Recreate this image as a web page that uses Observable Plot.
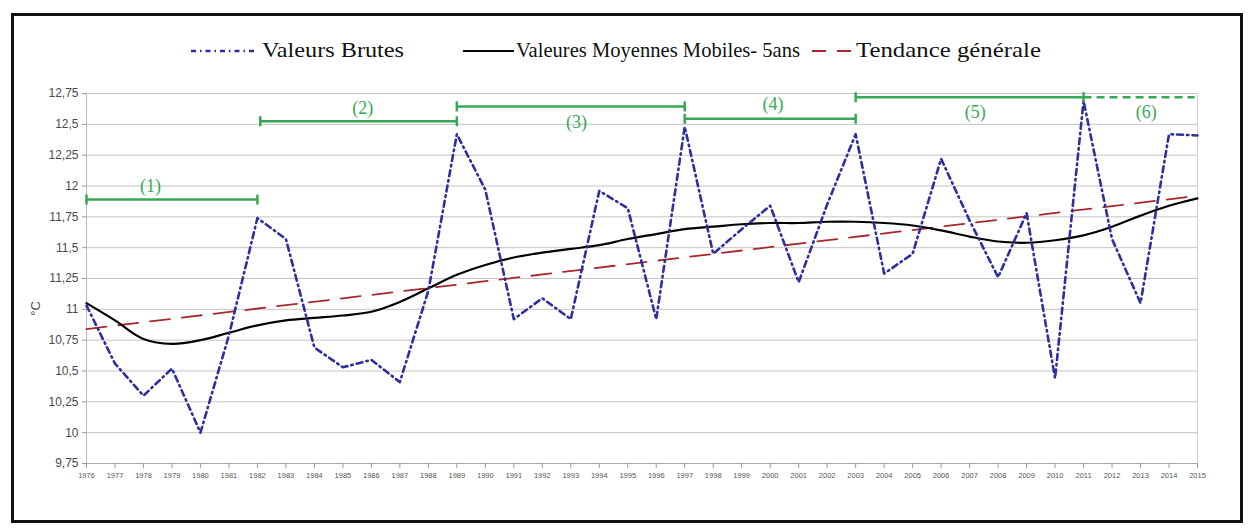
<!DOCTYPE html>
<html>
<head>
<meta charset="utf-8">
<script src="https://cdn.jsdelivr.net/npm/d3@7"></script>
<script src="https://cdn.jsdelivr.net/npm/@observablehq/plot@0.6"></script>
<style>
  html, body { margin: 0; padding: 0; background: #fff; }
  #root { position: relative; width: 1253px; height: 532px; overflow: hidden; background: #fff; }
  #frame { position: absolute; left: 11px; top: 13px; width: 1226px; height: 504px; border: 3px solid #111; pointer-events: none; }
  #legend { position: absolute; left: 0; top: 0; }
  #chart { position: absolute; left: 0; top: 75px; }
  #ylab { position: absolute; left: 28px; top: 301px; font: 13px "Liberation Sans", Arial, sans-serif; color: #444; transform: rotate(-90deg); transform-origin: center; }
</style>
</head>
<body>
<div id="root">
  <div id="frame"></div>
  <svg id="legend" width="1253" height="75"></svg>
  <div id="chart"></div>
  <div id="ylab">°C</div>
</div>
<script>
// ---- data ----
const years = [1976,1977,1978,1979,1980,1981,1982,1983,1984,1985,
               1986,1987,1988,1989,1990,1991,1992,1993,1994,1995,
               1996,1997,1998,1999,2000,2001,2002,2003,2004,2005,
               2006,2007,2008,2009,2010,2011,2012,2013,2014,2015];
const rawValues = [11.03,10.56,10.30,10.52,10.00,10.79,11.74,11.57,10.69,10.53,
                   10.59,10.41,11.15,12.42,11.97,10.92,11.09,10.92,11.96,11.82,
                   10.92,12.48,11.45,11.65,11.84,11.22,11.85,12.42,11.29,11.45,
                   12.22,11.72,11.26,11.78,10.44,12.69,11.57,11.05,12.42,12.41];
const movingAvg = [11.05,10.91,10.76,10.72,10.75,10.81,10.87,10.91,10.93,10.95,
                   10.98,11.06,11.17,11.28,11.36,11.42,11.46,11.49,11.52,11.57,
                   11.61,11.65,11.67,11.69,11.70,11.70,11.71,11.71,11.70,11.68,
                   11.64,11.59,11.55,11.54,11.56,11.60,11.67,11.76,11.84,11.90];
const trendYears = [1976, 2015];
const trendValues = [10.84, 11.92];
const yTicks = [9.75,10,10.25,10.5,10.75,11,11.25,11.5,11.75,12,12.25,12.5,12.75];

const periodLabels = ["(1)","(2)","(3)","(4)","(5)","(6)"];
const periodStart = [1976, 1982.1, 1989, 1997, 2003, 2011];
const periodEnd   = [1982, 1989, 1997, 2003, 2011, 2014.9];
const periodLevel = [11.89, 12.525, 12.645, 12.545, 12.72, 12.72];
const periodDashed = [false,false,false,false,false,true];
const periodCaps  = [true,true,true,true,true,false];
const labelYear   = [1978.25, 1985.7, 1993.2, 2000.1, 2007.2, 2013.2];
const labelLevel  = [12.0, 12.63, 12.52, 12.66, 12.6, 12.6];

const legendItems = ["Valeurs Brutes", "Valeures Moyennes Mobiles- 5ans", "Tendance générale"];

// ---- styles ----
const BLUE = "#2f2f9c", RED = "#a8282c", GREEN = "#37a856";
const SERIF = '"Liberation Serif", "Times New Roman", serif';
const SANS = '"Liberation Sans", Arial, sans-serif';

// ---- tables ----
const raw = years.map((y,i) => ({year:y, v:rawValues[i]}));
const ma = years.map((y,i) => ({year:y, v:movingAvg[i]}));
const trend = trendYears.map((y,i) => ({year:y, v:trendValues[i]}));
const periods = periodLabels.map((l,i) => ({label:l, x1:periodStart[i], x2:periodEnd[i], y:periodLevel[i], dashed:periodDashed[i], caps:periodCaps[i], lx:labelYear[i], ly:labelLevel[i]}));
const caps = periods.filter(p => p.caps).flatMap(p => [{x:p.x1, y:p.y},{x:p.x2, y:p.y}]);

const vTick = { draw(ctx, size) { const h = Math.sqrt(size / Math.PI); ctx.moveTo(0, -h); ctx.lineTo(0, h); } };
const fmt = d => String(d).replace(".", ",");

const chart = Plot.plot({
  width: 1253, height: 457,
  marginLeft: 86, marginRight: 56, marginTop: 18, marginBottom: 69,
  x: {domain: [1976, 2015]},
  y: {domain: [9.75, 12.75]},
  style: {background: "transparent"},
  marks: [
    Plot.ruleY(yTicks, {stroke: "#c4c4c4", strokeWidth: 1}),
    Plot.ruleX([2015], {stroke: "#d0d0d0"}),
    Plot.ruleX([1976], {stroke: "#b8b8b8"}),
    Plot.ruleY([9.75], {stroke: "#aaa"}),
    Plot.axisY({ticks: yTicks, tickFormat: fmt, fontSize: 12, tickSize: 4, tickPadding: 4, stroke: "#999", color: "#4a4a4a", fontFamily: SANS, label: null}),
    Plot.axisX({ticks: years, tickFormat: d => String(d), fontSize: 7.5, tickSize: 5, tickPadding: 4, stroke: "#999", color: "#555", fontFamily: SANS, label: null}),
    Plot.line(trend, {x: "year", y: "v", stroke: RED, strokeWidth: 1.8, strokeDasharray: "20,12"}),
    Plot.line(ma, {x: "year", y: "v", stroke: "#000", strokeWidth: 2.2, curve: "catmull-rom"}),
    Plot.line(raw, {x: "year", y: "v", stroke: BLUE, strokeWidth: 2.6, strokeDasharray: "6,4,1.5,4"}),
    Plot.link(periods.filter(p => !p.dashed), {x1: "x1", x2: "x2", y1: "y", y2: "y", stroke: GREEN, strokeWidth: 2.5}),
    Plot.link(periods.filter(p => p.dashed), {x1: "x1", x2: "x2", y1: "y", y2: "y", stroke: GREEN, strokeWidth: 2.5, strokeDasharray: "8,5"}),
    Plot.dot(caps, {x: "x", y: "y", symbol: vTick, r: 5, stroke: GREEN, strokeWidth: 2.5, fill: "none"}),
    Plot.text(periods, {x: "lx", y: "ly", text: "label", fill: GREEN, fontSize: 18, fontFamily: SERIF})
  ]
});
document.getElementById("chart").appendChild(chart);

// ---- legend ----
const lg = d3.select("#legend");
lg.append("line").attr("x1",191).attr("x2",257).attr("y1",51).attr("y2",51).attr("stroke",BLUE).attr("stroke-width",2.4).attr("stroke-dasharray","5,4,1.5,4");
lg.append("line").attr("x1",463).attr("x2",514).attr("y1",51).attr("y2",51).attr("stroke","#000").attr("stroke-width",2.2);
lg.append("line").attr("x1",812).attr("x2",851).attr("y1",51).attr("y2",51).attr("stroke",RED).attr("stroke-width",1.8).attr("stroke-dasharray","14,11");
const lx = [262, 516, 856], lw = [142, 284, 185];
legendItems.forEach((t, i) => {
  lg.append("text").attr("x", lx[i]).attr("y", 57)
    .style("font-family", SERIF).style("font-size", "21px").attr("fill", "#111")
    .attr("textLength", lw[i]).attr("lengthAdjust", "spacingAndGlyphs").text(t);
});
</script>
</body>
</html>
